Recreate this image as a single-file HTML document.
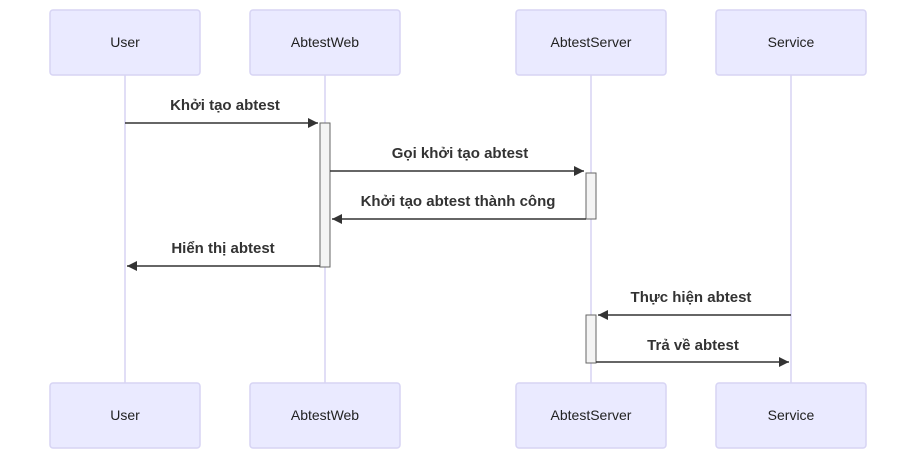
<!DOCTYPE html>
<html><head><meta charset="utf-8"><style>
html,body{margin:0;padding:0;background:#fff;width:916px;height:459px;overflow:hidden}
svg{display:block}
.a{fill:#eaeaff;stroke:#d7d4f4;stroke-width:1.5}
.at{font-family:"Liberation Sans",sans-serif;font-size:14px;fill:#222;text-anchor:middle}
.ll{stroke:#d7d4f4;stroke-width:1.5}
.act{fill:#f4f4f4;stroke:#666;stroke-width:1}
.m{stroke:#333;stroke-width:1.5;fill:none}
.mt{font-family:"Liberation Sans",sans-serif;font-weight:bold;font-size:15px;fill:#333;text-anchor:middle}
</style></head><body>
<svg width="916" height="459" viewBox="0 0 916 459" xmlns="http://www.w3.org/2000/svg">
<defs><marker id="ah" markerWidth="12" markerHeight="12" refX="10" refY="5" orient="auto" markerUnits="userSpaceOnUse"><path d="M0,0 L10,5 L0,10 z" fill="#333"/></marker></defs>
<line class="ll" x1="125" y1="75" x2="125" y2="383"/>
<line class="ll" x1="325" y1="75" x2="325" y2="383"/>
<line class="ll" x1="591" y1="75" x2="591" y2="383"/>
<line class="ll" x1="791" y1="75" x2="791" y2="383"/>
<rect class="a" x="50" y="10" width="150" height="65" rx="3"/><text class="at" x="125" y="47">User</text>
<rect class="a" x="250" y="10" width="150" height="65" rx="3"/><text class="at" x="325" y="47">AbtestWeb</text>
<rect class="a" x="516" y="10" width="150" height="65" rx="3"/><text class="at" x="591" y="47">AbtestServer</text>
<rect class="a" x="716" y="10" width="150" height="65" rx="3"/><text class="at" x="791" y="47">Service</text>
<rect class="a" x="50" y="383" width="150" height="65" rx="3"/><text class="at" x="125" y="420">User</text>
<rect class="a" x="250" y="383" width="150" height="65" rx="3"/><text class="at" x="325" y="420">AbtestWeb</text>
<rect class="a" x="516" y="383" width="150" height="65" rx="3"/><text class="at" x="591" y="420">AbtestServer</text>
<rect class="a" x="716" y="383" width="150" height="65" rx="3"/><text class="at" x="791" y="420">Service</text>
<rect class="act" x="320" y="123" width="10" height="144"/>
<rect class="act" x="586" y="173" width="10" height="46"/>
<rect class="act" x="586" y="315" width="10" height="48"/>
<line class="m" x1="125" y1="123" x2="318" y2="123" marker-end="url(#ah)"/>
<text class="mt" x="225" y="110">Khởi tạo abtest</text>
<line class="m" x1="330" y1="171" x2="584" y2="171" marker-end="url(#ah)"/>
<text class="mt" x="460" y="158">Gọi khởi tạo abtest</text>
<line class="m" x1="586" y1="219" x2="332" y2="219" marker-end="url(#ah)"/>
<text class="mt" x="458" y="206">Khởi tạo abtest thành công</text>
<line class="m" x1="320" y1="266" x2="127" y2="266" marker-end="url(#ah)"/>
<text class="mt" x="223" y="253">Hiển thị abtest</text>
<line class="m" x1="791" y1="315" x2="598" y2="315" marker-end="url(#ah)"/>
<text class="mt" x="691" y="302">Thực hiện abtest</text>
<line class="m" x1="596" y1="362" x2="789" y2="362" marker-end="url(#ah)"/>
<text class="mt" x="693" y="350">Trả về abtest</text>
</svg>
</body></html>
